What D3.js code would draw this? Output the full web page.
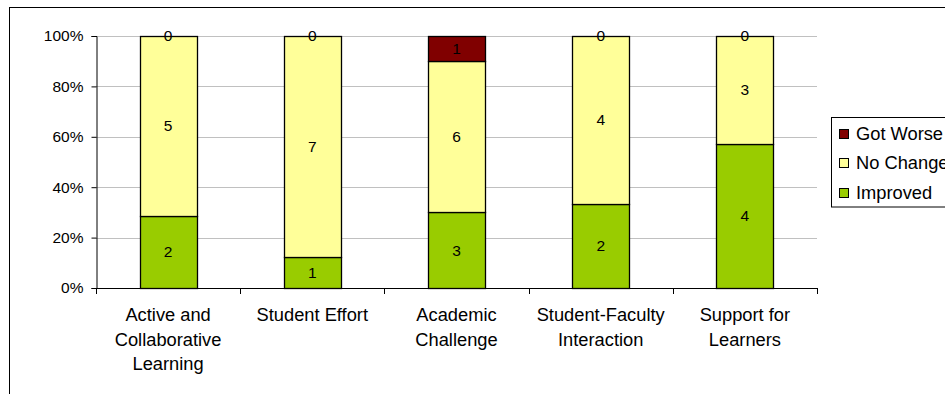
<!DOCTYPE html>
<html>
<head>
<meta charset="utf-8">
<script src="https://cdn.jsdelivr.net/npm/d3@7"></script>
<style>
  html, body { margin: 0; padding: 0; background: #fff; }
  svg { display: block; font-family: "Liberation Sans", Arial, sans-serif; }
</style>
</head>
<body>
<svg id="chart" width="945" height="394"></svg>
<script>
const categories = [
  ["Active and", "Collaborative", "Learning"],
  ["Student Effort"],
  ["Academic", "Challenge"],
  ["Student-Faculty", "Interaction"],
  ["Support for", "Learners"]
];
const seriesNames = ["Improved", "No Change", "Got Worse"];
const improved = [2, 1, 3, 2, 4];
const noChange = [5, 7, 6, 4, 3];
const gotWorse = [0, 0, 1, 0, 0];
const colors = ["#99CC00", "#FFFF99", "#800000"];
const yTicks = [0, 0.2, 0.4, 0.6, 0.8, 1.0];

const svg = d3.select("#chart");
const plotLeft = 96, plotRight = 817, plotTop = 36, plotBottom = 288;

// outer chart border
svg.append("rect").attr("x", 9.5).attr("y", 7.5).attr("width", 1000).attr("height", 500)
  .attr("fill", "#fff").attr("stroke", "#000").attr("stroke-width", 1);

const idx = categories.map((d, i) => i);
const pi = 1 - 57 / ((plotRight - plotLeft) / 5);
const x = d3.scaleBand().domain(idx).range([plotLeft, plotRight]).paddingInner(pi).paddingOuter(pi / 2);
const y = d3.scaleLinear().domain([0, 1]).range([plotBottom, plotTop]);

// gridlines
svg.append("g").selectAll("line").data(yTicks.filter(t => t > 0)).join("line")
  .attr("x1", plotLeft).attr("x2", plotRight)
  .attr("y1", d => Math.round(y(d)) + 0.5).attr("y2", d => Math.round(y(d)) + 0.5)
  .attr("stroke", "#c0c0c0").attr("stroke-width", 1);

// stacked data
const table = idx.map(i => ({ i, "Improved": improved[i], "No Change": noChange[i], "Got Worse": gotWorse[i] }));
const stack = d3.stack().keys(seriesNames).offset(d3.stackOffsetExpand);
const stacked = stack(table);

const gBars = svg.append("g");
stacked.forEach((s, si) => {
  gBars.append("g").selectAll("rect").data(s).join("rect")
    .attr("x", d => Math.round(x(d.data.i)) + 0.5)
    .attr("width", Math.round(x.bandwidth()))
    .attr("y", d => Math.round(y(d[1])) + 0.5)
    .attr("height", d => Math.round(y(d[0])) - Math.round(y(d[1])))
    .attr("fill", colors[si]).attr("stroke", "#000").attr("stroke-width", 1.3)
    .attr("display", d => d[1] - d[0] > 0 ? null : "none");
});

// data labels
stacked.forEach((s, si) => {
  svg.append("g").selectAll("text").data(s).join("text")
    .attr("x", d => x(d.data.i) + x.bandwidth() / 2)
    .attr("y", d => y((d[0] + d[1]) / 2))
    .attr("dy", "0.35em")
    .attr("text-anchor", "middle")
    .attr("font-size", 15.5).attr("fill", "#000")
    .text(d => d.data[seriesNames[si]]);
});

// y axis
const yAxis = d3.axisLeft(y).tickValues(yTicks).tickSize(5).tickFormat(d3.format(".0%"));
const gy = svg.append("g").attr("transform", `translate(${plotLeft + 0.5},0)`).call(yAxis);
gy.select(".domain").attr("stroke", "#000");
gy.selectAll(".tick line").attr("stroke", "#000");
gy.selectAll(".tick text").attr("font-size", 15.5).attr("font-family", "Liberation Sans, Arial, sans-serif").attr("fill", "#000").attr("x", -13);

// x axis
const boundaries = d3.range(6).map(k => plotLeft + k * x.step());
const gx = svg.append("g");
gx.append("line").attr("x1", plotLeft).attr("x2", plotRight + 0.5)
  .attr("y1", plotBottom + 0.5).attr("y2", plotBottom + 0.5).attr("stroke", "#000");
gx.selectAll("line.t").data(boundaries).join("line").attr("class", "t")
  .attr("x1", d => Math.round(d) + 0.5).attr("x2", d => Math.round(d) + 0.5)
  .attr("y1", plotBottom).attr("y2", plotBottom + 6).attr("stroke", "#000");

const labels = svg.append("g");
categories.forEach((lines, i) => {
  const t = labels.append("text")
    .attr("x", x(i) + x.bandwidth() / 2)
    .attr("y", 321)
    .attr("text-anchor", "middle")
    .attr("font-size", 18.3).attr("fill", "#000");
  lines.forEach((ln, k) => {
    t.append("tspan").attr("x", x(i) + x.bandwidth() / 2).attr("y", 321 + k * 24.5).text(ln);
  });
});

// legend
const lg = svg.append("g");
lg.append("rect").attr("x", 831.5).attr("y", 117.5).attr("width", 200).attr("height", 89.5)
  .attr("fill", "#fff").attr("stroke", "#000");
const legendItems = seriesNames.slice().reverse();
const legendColors = colors.slice().reverse();
legendItems.forEach((name, k) => {
  const cy = 133.5 + k * 29.5;
  lg.append("rect").attr("x", 839.5).attr("y", Math.round(cy - 5) + 0.5).attr("width", 9).attr("height", 9)
    .attr("fill", legendColors[k]).attr("stroke", "#000");
  lg.append("text").attr("x", 856).attr("y", cy).attr("dy", "0.35em")
    .attr("font-size", 18.3).attr("fill", "#000").text(name);
});
</script>
</body>
</html>
